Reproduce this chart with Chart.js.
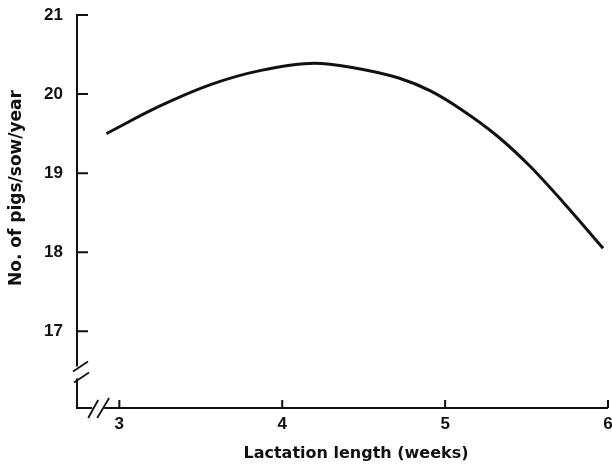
<!DOCTYPE html>
<html>
<head>
<meta charset="utf-8">
<script src="https://cdn.jsdelivr.net/npm/chart.js@4"></script>
<style>
  body { margin: 0; background: #fff; }
  #wrap { width: 612px; height: 470px; }
</style>
</head>
<body>
<div id="wrap"><canvas id="pigs" width="612" height="470"></canvas></div>
<script>
// values
const lactationWeeks = [2.92, 3.25, 3.56, 3.87, 4.2, 4.42, 4.72, 4.91, 5.11, 5.32, 5.52, 5.73, 5.97];
const pigsPerSowYear = [19.5, 19.85, 20.12, 20.3, 20.39, 20.34, 20.2, 20.04, 19.79, 19.47, 19.09, 18.62, 18.05];
const xTicks = [3, 4, 5, 6];
const yTicks = [17, 18, 19, 20, 21];

const ink = "#111";
const tickFont = "'Liberation Sans', Arial, sans-serif";
const titleFont = "'DejaVu Sans', sans-serif";

// axes drawn by hand: inward ticks + the "//" breaks
const axisPlugin = {
  id: "axisBreaks",
  afterDraw(chart) {
    const c = chart.ctx;
    const xs = chart.scales.x, ys = chart.scales.y;
    const L = xs.left, R = xs.right, T = ys.top, B = ys.bottom;
    c.save();
    c.strokeStyle = ink;
    c.lineWidth = 2;
    c.lineCap = "butt";

    // y axis with gap
    const yb = ys.getPixelForValue(16.48);
    c.beginPath();
    c.moveTo(L, T - 1); c.lineTo(L, yb - 6);
    c.moveTo(L, yb + 6); c.lineTo(L, B + 1);
    // x axis with gap
    const xb = xs.getPixelForValue(2.87);
    c.moveTo(L - 1, B); c.lineTo(xb - 6, B);
    c.moveTo(xb + 6, B); c.lineTo(R, B);
    c.stroke();

    // inward ticks
    c.beginPath();
    yTicks.forEach(v => {
      const p = ys.getPixelForValue(v);
      c.moveTo(L, p); c.lineTo(L + 11, p);
    });
    xTicks.forEach(v => {
      const p = xs.getPixelForValue(v);
      c.moveTo(p, B); c.lineTo(p, B - 8);
    });
    c.stroke();

    // break marks
    c.lineWidth = 1.8;
    c.beginPath();
    c.moveTo(L - 4, yb - 1); c.lineTo(L + 11, yb - 11);
    c.moveTo(L - 3, yb + 10); c.lineTo(L + 12, yb);
    c.moveTo(xb - 10, B + 10); c.lineTo(xb, B - 8);
    c.moveTo(xb - 1, B + 10); c.lineTo(xb + 11, B - 10);
    c.stroke();

    // axis titles
    c.fillStyle = ink;
    c.textAlign = "center";
    c.textBaseline = "middle";
    c.font = "bold 16px " + titleFont;
    c.fillText("Lactation length (weeks)", 356, 454);
    c.font = "bold 17px " + titleFont;
    c.translate(17, 188);
    c.rotate(-Math.PI / 2);
    c.fillText("No. of pigs/sow/year", 0, 0);
    c.restore();
  }
};

new Chart(document.getElementById("pigs").getContext("2d"), {
  type: "line",
  data: {
    datasets: [{
      data: lactationWeeks.map((w, i) => ({ x: w, y: pigsPerSowYear[i] })),
      borderColor: ink,
      borderWidth: 3,
      pointRadius: 0,
      cubicInterpolationMode: "monotone",
      fill: false
    }]
  },
  options: {
    responsive: false,
    animation: false,
    layout: { padding: { top: 15, right: 4, left: 0, bottom: 0 } },
    plugins: { legend: { display: false }, tooltip: { enabled: false } },
    scales: {
      x: {
        type: "linear",
        min: 2.74,
        max: 6,
        afterFit: s => { s.height = 62; s.paddingLeft = 0; s.paddingRight = 0; },
        afterBuildTicks: s => { s.ticks = xTicks.map(v => ({ value: v })); },
        grid: { display: false, drawTicks: false },
        border: { display: false },
        ticks: { color: ink, padding: 6, font: { size: 17, weight: "bold", family: tickFont } }
      },
      y: {
        min: 16.03,
        max: 21,
        afterFit: s => { s.width = 77; s.paddingTop = 0; s.paddingBottom = 0; },
        afterBuildTicks: s => { s.ticks = yTicks.map(v => ({ value: v })); },
        grid: { display: false, drawTicks: false },
        border: { display: false },
        ticks: { color: ink, padding: 14, font: { size: 17, weight: "bold", family: tickFont } }
      }
    }
  },
  plugins: [axisPlugin]
});
</script>
</body>
</html>
